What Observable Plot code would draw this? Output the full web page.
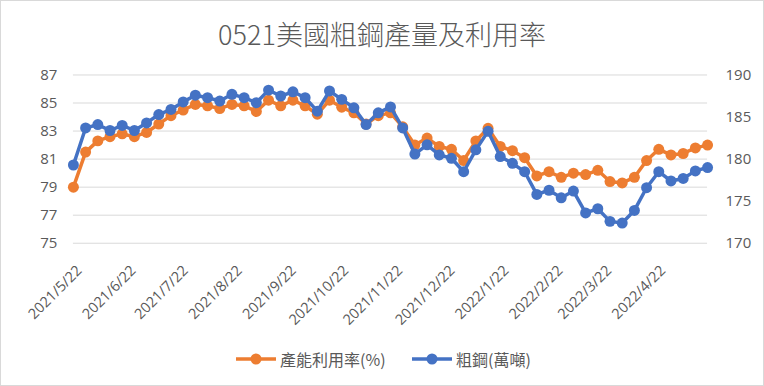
<!DOCTYPE html>
<html><head><meta charset="utf-8">
<script src="https://cdn.jsdelivr.net/npm/d3@7"></script>
<script src="https://cdn.jsdelivr.net/npm/@observablehq/plot@0.6"></script>
<style>
body{margin:0;background:#fff;}
#chart{position:relative;width:764px;height:386px;box-sizing:border-box;border:1px solid #d9d9d9;overflow:hidden;background:#fff;font-family:"Open Sans","Noto Sans CJK TC",sans-serif;}
#title{position:absolute;left:-1px;top:13px;width:764px;text-align:center;font-size:27px;line-height:40px;color:#595959;font-family:"Noto Sans CJK TC","Open Sans",sans-serif;font-weight:300;}
#plot{position:absolute;left:-1px;top:54px;}
.leg{position:absolute;top:345px;height:26px;display:flex;align-items:center;font-size:16px;color:#595959;font-family:"Noto Sans CJK TC",sans-serif;white-space:nowrap;}
.leg svg{margin-right:3px;}
</style></head>
<body>
<div id="chart">
  <div id="title"></div>
  <div id="plot"></div>
  <div class="leg" id="leg1" style="left:234px"></div>
  <div class="leg" id="leg2" style="left:410px"></div>
</div>
<script>
const titleText = "0521美國粗鋼產量及利用率";
const seriesNames = ["產能利用率(%)", "粗鋼(萬噸)"];
const seriesColors = ["#ED7D31", "#4472C4"];

const dates = [
  "2021-05-22","2021-05-29","2021-06-05","2021-06-12","2021-06-19","2021-06-26",
  "2021-07-03","2021-07-10","2021-07-17","2021-07-24","2021-07-31","2021-08-07",
  "2021-08-14","2021-08-21","2021-08-28","2021-09-04","2021-09-11","2021-09-18",
  "2021-09-25","2021-10-02","2021-10-09","2021-10-16","2021-10-23","2021-10-30",
  "2021-11-06","2021-11-13","2021-11-20","2021-11-27","2021-12-04","2021-12-11",
  "2021-12-18","2021-12-25","2022-01-01","2022-01-08","2022-01-15","2022-01-22",
  "2022-01-29","2022-02-05","2022-02-12","2022-02-19","2022-02-26","2022-03-05",
  "2022-03-12","2022-03-19","2022-03-26","2022-04-02","2022-04-09","2022-04-16",
  "2022-04-23","2022-04-30","2022-05-07","2022-05-14","2022-05-21"
];
const utilization = [79.0,81.5,82.3,82.6,82.8,82.6,82.9,83.5,84.1,84.5,84.9,84.8,84.6,84.9,84.8,84.4,85.2,84.8,85.2,84.8,84.2,85.2,84.7,84.3,83.5,84.1,84.3,83.3,82.0,82.5,81.9,81.7,80.9,82.3,83.2,81.9,81.6,81.1,79.8,80.1,79.7,80.0,79.9,80.2,79.4,79.3,79.7,80.9,81.7,81.3,81.4,81.8,82.0];
const steel = [179.3,183.7,184.1,183.4,184.0,183.4,184.3,185.3,185.9,186.8,187.6,187.3,186.9,187.7,187.3,186.7,188.2,187.5,188.0,187.3,185.7,188.1,187.1,186.1,184.1,185.5,186.2,183.7,180.6,181.7,180.5,180.1,178.5,181.1,183.3,180.3,179.5,178.5,175.8,176.3,175.4,176.2,173.6,174.1,172.6,172.4,173.9,176.6,178.5,177.4,177.7,178.6,179.0];

const xTickLabels = ["2021/5/22","2021/6/22","2021/7/22","2021/8/22","2021/9/22","2021/10/22","2021/11/22","2021/12/22","2022/1/22","2022/2/22","2022/3/22","2022/4/22"];
const leftTicks = [75,77,79,81,83,85,87];
const rightTicks = [170,175,180,185,190];

const leftDomain = [75, 87];
const rightDomain = [170, 190];
const toLeft = v => leftDomain[0] + (v - rightDomain[0]) * (leftDomain[1]-leftDomain[0])/(rightDomain[1]-rightDomain[0]);
const fromLeft = v => rightDomain[0] + (v - leftDomain[0]) * (rightDomain[1]-rightDomain[0])/(leftDomain[1]-leftDomain[0]);

const parse = d3.utcParse("%Y-%m-%d");
const parseLabel = d3.utcParse("%Y/%m/%d");
const data = dates.map((d,i)=>({date: parse(d), util: utilization[i], steel: steel[i]}));
const xTicks = xTickLabels.map(s => parseLabel(s));

document.getElementById("title").textContent = titleText;

const fontStack = '"Open Sans","Noto Sans CJK TC",sans-serif';
const chart = Plot.plot({
  width: 764, height: 281,
  marginLeft: 73, marginRight: 56, marginTop: 19.5, marginBottom: 93,
  x: {type: "utc", domain: [data[0].date, data[data.length-1].date]},
  y: {domain: leftDomain},
  style: {fontFamily: fontStack, fontSize: "15px", color: "#595959", background: "transparent", overflow: "visible"},
  marks: [
    Plot.gridY(leftTicks, {stroke: "#d9d9d9", strokeOpacity: 1, strokeWidth: 1}),
    Plot.axisY(leftTicks, {anchor: "left", tickSize: 0, tickPadding: 16, label: null, fill: "#595959"}),
    Plot.axisY(rightTicks.map(toLeft), {anchor: "right", tickSize: 0, tickPadding: 18, label: null, fill: "#595959",
      tickFormat: d => String(Math.round(fromLeft(d)))}),
    Plot.axisX(xTicks, {anchor: "bottom", tickSize: 0, tickPadding: 25, dx: 6, tickRotate: -45, label: null, fill: "#595959",
      fontSize: 14.5, tickFormat: d => d3.utcFormat("%Y/%-m/%-d")(d)}),
    Plot.line(data, {x: "date", y: "util", stroke: seriesColors[0], strokeWidth: 3.5}),
    Plot.dot(data, {x: "date", y: "util", fill: seriesColors[0], r: 5.5}),
    Plot.line(data, {x: "date", y: d => toLeft(d.steel), stroke: seriesColors[1], strokeWidth: 3.5}),
    Plot.dot(data, {x: "date", y: d => toLeft(d.steel), fill: seriesColors[1], r: 5.5})
  ]
});
document.getElementById("plot").appendChild(chart);

function legendItem(el, name, color){
  const ns = "http://www.w3.org/2000/svg";
  const svg = document.createElementNS(ns, "svg");
  svg.setAttribute("width", 42); svg.setAttribute("height", 14);
  const line = document.createElementNS(ns, "line");
  line.setAttribute("x1", 1); line.setAttribute("x2", 41); line.setAttribute("y1", 7); line.setAttribute("y2", 7);
  line.setAttribute("stroke", color); line.setAttribute("stroke-width", 3.5);
  const c = document.createElementNS(ns, "circle");
  c.setAttribute("cx", 21); c.setAttribute("cy", 7); c.setAttribute("r", 5.5); c.setAttribute("fill", color);
  svg.appendChild(line); svg.appendChild(c);
  el.appendChild(svg);
  const span = document.createElement("span");
  span.textContent = name;
  el.appendChild(span);
}
legendItem(document.getElementById("leg1"), seriesNames[0], seriesColors[0]);
legendItem(document.getElementById("leg2"), seriesNames[1], seriesColors[1]);
</script>
</body></html>
